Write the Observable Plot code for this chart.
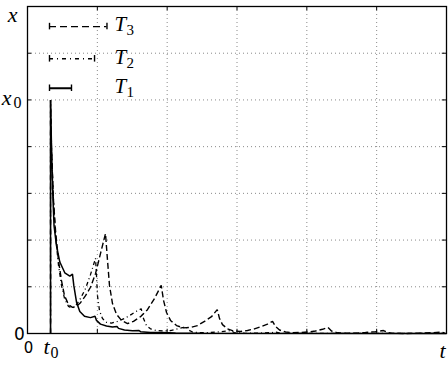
<!DOCTYPE html>
<html><head><meta charset="utf-8">
<script src="https://cdn.jsdelivr.net/npm/d3@7"></script>
<script src="https://cdn.jsdelivr.net/npm/@observablehq/plot@0.6"></script>
<style>body{margin:0;background:#fff} svg{display:block}</style>
</head><body><div id="chart"></div>
<script>
// ---- data ----
const t0 = 0.33;          // start time
const x0 = 5;             // initial value
const gridXValues = [1, 2, 3, 4, 5];
const gridYValues = [1, 2, 3, 4, 5, 6];
const yTickValues = [0, x0];
const xTickValues = [0, t0];

const periodNames = ["T3", "T2", "T1"];
const periodSubs = ["3", "2", "1"];
const periodLengths = [0.823, 0.645, 0.315];

// T1 (solid)
const tT1 = [0.33,0.33,0.344,0.362,0.38,0.415,0.463,0.534,0.606,0.644,0.663,0.702,0.749,0.816,0.902,0.967,0.988,1.045,1.131,1.217,1.282,1.303,1.389,1.504,1.597,1.618,1.761,1.919,2.12,2.477,6.0];
const xT1 = [0,5.0,3.98,3.0,2.31,1.88,1.53,1.30,1.23,1.27,1.03,0.67,0.47,0.37,0.34,0.37,0.28,0.20,0.16,0.14,0.15,0.11,0.075,0.06,0.064,0.039,0.021,0.02,0.009,0.003,0];

// T2 (dash-dot)
const tT2 = [0.33,0.33,0.344,0.372,0.401,0.444,0.487,0.53,0.587,0.644,0.702,0.759,0.831,0.902,0.974,0.988,1.002,1.031,1.074,1.131,1.203,1.289,1.389,1.489,1.575,1.628,1.661,1.704,1.761,1.847,1.948,2.048,2.148,2.234,2.27,2.306,2.363,2.477,2.621,2.764,2.878,2.914,2.964,3.122,3.337,3.509,3.559,3.623,3.91,6.0];
const xT2 = [0,5,3.92,2.85,2.10,1.46,1.03,0.75,0.58,0.54,0.62,0.75,0.96,1.26,1.61,1.24,0.81,0.49,0.32,0.24,0.22,0.26,0.32,0.41,0.49,0.53,0.32,0.17,0.10,0.064,0.054,0.064,0.10,0.13,0.15,0.075,0.032,0.017,0.021,0.039,0.058,0.064,0.015,0.004,0.009,0.021,0.028,0.004,0.002,0.001];

// T3 (dashed)
const tT3 = [0.33,0.33,0.344,0.372,0.401,0.444,0.487,0.53,0.587,0.644,0.702,0.759,0.831,0.902,0.974,1.045,1.117,1.146,1.174,1.217,1.275,1.346,1.432,1.518,1.618,1.718,1.819,1.915,1.948,1.991,2.048,2.134,2.234,2.334,2.434,2.535,2.635,2.717,2.75,2.792,2.864,2.95,3.05,3.15,3.25,3.351,3.437,3.509,3.552,3.609,3.695,3.795,3.91,4.024,4.124,4.225,4.303,4.353,4.439,4.554,4.697,4.84,4.984,5.098,5.155,5.241,5.413,5.628,5.814,5.929,5.972];
const xT3 = [0,5,3.92,2.85,2.21,1.56,1.13,0.81,0.62,0.56,0.58,0.66,0.81,0.99,1.28,1.71,2.14,1.56,1.03,0.64,0.41,0.28,0.21,0.26,0.36,0.51,0.75,1.03,0.71,0.45,0.28,0.17,0.12,0.13,0.17,0.26,0.36,0.51,0.32,0.19,0.10,0.054,0.043,0.064,0.10,0.15,0.20,0.26,0.15,0.075,0.032,0.017,0.021,0.032,0.054,0.09,0.13,0.054,0.015,0.004,0.009,0.021,0.039,0.064,0.021,0.002,0.001,0.006,0.017,0.028,0.011];

const toRows = (ts, xs) => ts.map((t, i) => ({t, x: xs[i]}));
const s1 = toRows(tT1, xT1), s2 = toRows(tT2, xT2), s3 = toRows(tT3, xT3);

// ---- styles ----
const serif = "Liberation Serif, DejaVu Serif, serif";
const sans = "DejaVu Sans, sans-serif";
const dashes = ["7,4", "4,4,1,4", null];
const legendRowY = [6.57, 5.88, 5.25];
const legendX = 0.315;

const legendMarks = [];
periodNames.forEach((n, i) => {
  const y = legendRowY[i];
  const x2 = legendX + periodLengths[i];
  legendMarks.push(
    Plot.ruleY([y], {x1: legendX, x2, stroke: "black", strokeWidth: i === 2 ? 2 : 1.4,
      strokeDasharray: dashes[i] || undefined, strokeLinecap: "butt"}),
    Plot.ruleX([legendX, x2], {y1: y - 0.07, y2: y + 0.07, stroke: "black", strokeWidth: 1.4}),
    Plot.text([n], {x: 1.245, y, text: () => "T", textAnchor: "start", dy: -2,
      fontFamily: serif, fontStyle: "italic", fontSize: 21, fill: "black"}),
    Plot.text([periodSubs[i]], {x: 1.245, y, text: d => d, textAnchor: "start", dx: 12, dy: 4,
      fontFamily: serif, fontSize: 15, fill: "black"})
  );
});

const lineOpts = {x: "t", y: "x", stroke: "black", strokeLinecap: "butt", strokeLinejoin: "miter"};

const chart = Plot.plot({
  width: 448, height: 371,
  marginLeft: 27, marginRight: 2, marginTop: 6, marginBottom: 38,
  x: {domain: [0, 6], axis: null},
  y: {domain: [0, 7], axis: null},
  style: {background: "white", overflow: "visible"},
  marks: [
    Plot.ruleX(gridXValues, {stroke: "#8a8a8a", strokeWidth: 1, strokeDasharray: "1,3"}),
    Plot.ruleY(gridYValues, {stroke: "#8a8a8a", strokeWidth: 1, strokeDasharray: "1,3"}),
    // inward ticks
    Plot.ruleX(gridXValues, {y1: 0, y2: 0.09, stroke: "black"}),
    Plot.ruleX(gridXValues, {y1: 7, y2: 6.91, stroke: "black"}),
    Plot.ruleY(gridYValues, {x1: 0, x2: 0.06, stroke: "black"}),
    Plot.ruleY(gridYValues, {x1: 6, x2: 5.94, stroke: "black"}),
    Plot.line(s3, {...lineOpts, strokeWidth: 1.4, strokeDasharray: "6,3"}),
    Plot.line(s2, {...lineOpts, strokeWidth: 1.3, strokeDasharray: "4,3,1,3"}),
    Plot.line(s1, {...lineOpts, strokeWidth: 1.5}),
    Plot.frame({stroke: "black", strokeWidth: 1.3}),
    ...legendMarks,
    // y tick labels
    Plot.text([yTickValues[0]], {x: 0, y: d => d, text: () => "0", dx: -8, dy: 1,
      fontFamily: sans, fontSize: 17, fill: "black"}),
    Plot.text([yTickValues[1]], {x: 0, y: d => d, text: () => "x", dx: -21, dy: -2,
      fontFamily: serif, fontStyle: "italic", fontSize: 22, fill: "black"}),
    Plot.text([yTickValues[1]], {x: 0, y: d => d, text: () => "0", dx: -10, dy: 3,
      fontFamily: serif, fontSize: 16, fill: "black"}),
    // x tick labels
    Plot.text([xTickValues[0]], {x: d => d, y: 0, text: () => "0", dx: 1, dy: 15,
      fontFamily: sans, fontSize: 15, fill: "black"}),
    Plot.text([xTickValues[1]], {x: d => d, y: 0, text: () => "t", dx: -4, dy: 13,
      fontFamily: serif, fontStyle: "italic", fontSize: 22, fill: "black"}),
    Plot.text([xTickValues[1]], {x: d => d, y: 0, text: () => "0", dx: 4, dy: 19,
      fontFamily: serif, fontSize: 16, fill: "black"}),
    // axis labels
    Plot.text(["t"], {x: 6, y: 0, text: d => d, dx: -4, dy: 17,
      fontFamily: serif, fontStyle: "italic", fontSize: 22, fill: "black"}),
    Plot.text(["x"], {x: 0, y: 7, text: d => d, dx: -15, dy: 8,
      fontFamily: serif, fontStyle: "italic", fontSize: 22, fill: "black"})
  ]
});
document.getElementById("chart").append(chart);
</script>
</body></html>
